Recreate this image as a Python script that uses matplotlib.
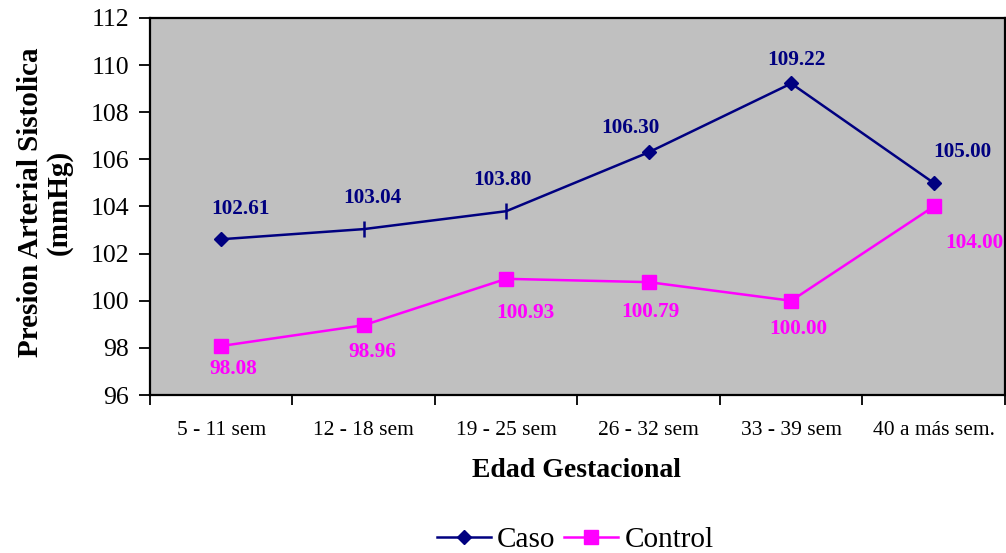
import matplotlib
matplotlib.use("Agg")
import matplotlib.pyplot as plt
import numpy as np

plt.rcParams["font.family"] = ["Liberation Serif", "DejaVu Serif"]

# ── Datos ─────────────────────────────────────────────────────────────────────
categorias = ["5 - 11 sem", "12 - 18 sem", "19 - 25 sem",
              "26 - 32 sem", "33 - 39 sem", "40 a más sem."]
caso = [102.61, 103.04, 103.80, 106.30, 109.22, 105.00]
control = [98.08, 98.96, 100.93, 100.79, 100.00, 104.00]

# desplazamiento de etiquetas (pixeles)
off_caso = [(19, 30), (9, 31), (-4, 31), (-18, 24), (5, 23), (29, 31)]
off_control = [(12, -23), (9, -27), (19, -34), (2, -30), (7, -28), (41, -37)]

NAVY = "#000080"
MAGENTA = "#FF00FF"

fig = plt.figure(figsize=(10.06, 5.53), dpi=100)
ax = fig.add_axes([0.149, 0.2857, 0.850, 0.6818])
ax.set_facecolor("#C0C0C0")

x = np.arange(len(categorias))

# Caso: rombos salvo en los puntos 2 y 3, que llevan una marca vertical
ax.plot(x, caso, color=NAVY, lw=1.8, zorder=3)
rombo = [0, 3, 4, 5]
marca = [1, 2]
ax.plot(x[rombo], np.array(caso)[rombo], ls="none", marker="D",
        ms=7.5, color=NAVY, zorder=4)
ax.plot(x[marca], np.array(caso)[marca], ls="none", marker="|",
        ms=11, mew=1.8, color=NAVY, zorder=4)

ax.plot(x, control, color=MAGENTA, lw=1.8, marker="s", ms=10, zorder=3)

for xi, v, off in zip(x, caso, off_caso):
    ax.annotate(f"{v:.2f}", (xi, v), xytext=off, textcoords="offset pixels",
                ha="center", va="center", color=NAVY, fontsize=15.3,
                fontweight="bold")
for xi, v, off in zip(x, control, off_control):
    ax.annotate(f"{v:.2f}", (xi, v), xytext=off, textcoords="offset pixels",
                ha="center", va="center", color=MAGENTA, fontsize=15.3,
                fontweight="bold")

ax.set_xlim(-0.5, len(categorias) - 0.5)
ax.set_ylim(96, 112)
ax.set_yticks(np.arange(96, 113, 2))
ax.tick_params(axis="y", labelsize=18.5, direction="out", length=8, width=1.3,
               pad=7)

# ticks entre categorías, etiquetas centradas
ax.set_xticks(np.arange(-0.5, len(categorias), 1))
ax.set_xticklabels([])
ax.set_xticks(x, minor=True)
ax.set_xticklabels(categorias, minor=True)
ax.tick_params(axis="x", which="major", direction="out", length=7, width=1.3)
ax.tick_params(axis="x", which="minor", length=0, labelsize=15.5, pad=19)

for s in ax.spines.values():
    s.set_linewidth(1.6)
    s.set_color("black")

ax.set_ylabel("Presion Arterial Sistolica\n(mmHg)", fontsize=21,
              fontweight="bold", linespacing=1.05)
ax.yaxis.set_label_coords(-0.123, 0.51)
ax.set_xlabel("Edad Gestacional", fontsize=20, fontweight="bold")
ax.xaxis.set_label_coords(0.499, -0.199)
ax.xaxis.label.set_va("center")
ax.yaxis.label.set_va("center")

h1, = ax.plot([], [], color=NAVY, lw=1.8, marker="D", ms=7.5)
h2, = ax.plot([], [], color=MAGENTA, lw=1.8, marker="s", ms=10)
fig.legend([h1, h2], ["Caso", "Control"], loc="center",
           bbox_to_anchor=(0.572, 0.024), ncol=2, frameon=False,
           fontsize=21, handlelength=1.85, handletextpad=0.2,
           columnspacing=0.3, borderpad=0, borderaxespad=0)

fig.savefig("out.png", dpi=100)
